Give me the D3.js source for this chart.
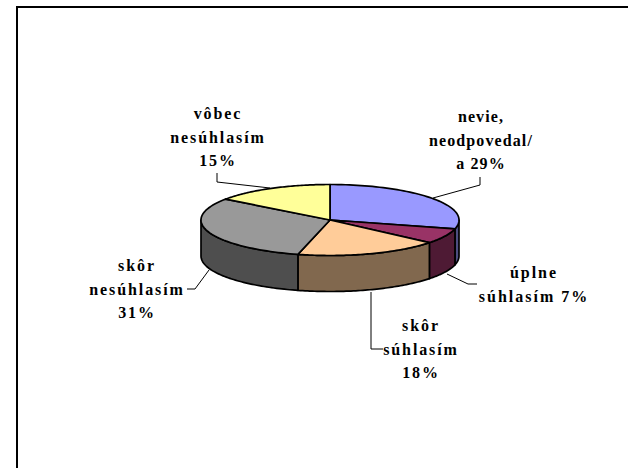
<!DOCTYPE html>
<html>
<head>
<meta charset="utf-8">
<script src="https://cdn.jsdelivr.net/npm/d3@7"></script>
<style>
  html, body { margin: 0; padding: 0; background: #fff; }
  text { font-family: "Liberation Serif", serif; font-weight: bold; font-size: 16px; fill: #000; }
</style>
</head>
<body>
<div id="chart"></div>
<script>
// Data, clockwise from 12 o'clock
const categories = ["nevie, neodpovedal/a", "úplne súhlasím", "skôr súhlasím", "skôr nesúhlasím", "vôbec nesúhlasím"];
const values = [29, 7, 18, 31, 15];
const topColors = ["#9999ff", "#993366", "#ffcc99", "#999999", "#ffff99"];
const labelLines = [
    ["nevie,", "neodpovedal/", "a 29%"],
    ["úplne", "súhlasím 7%"],
    ["skôr", "súhlasím", "18%"],
    ["skôr", "nesúhlasím", "31%"],
    ["vôbec", "nesúhlasím", "15%"]
];

// Layout, one entry per slice
const labelX = [481, 534, 421, 137, 218];
const labelY = [122, 278, 331, 271, 119];
const labelSpacing = [1.1, 2, 1.9, 1.9, 1.9];
const leaders = [
    [[480, 177], [480, 185], [433, 198]],
    [[477, 284], [468, 284], [447, 274]],
    [[383, 349], [371, 349], [371, 292]],
    [[187, 289], [195, 289], [209, 270]],
    [[217, 173], [217, 182], [270, 188]]
];

const width = 628, height = 468;
const cx = 330, cy = 220, rx = 129, ry = 35.5, depth = 36;
const lineGap = 23.5;

const svg = d3.select("#chart")
  .append("svg")
    .attr("width", width)
    .attr("height", height)
    .style("display", "block");

// Frame, only top and left are visible in the picture
svg.append("path")
    .attr("d", d3.line()([[17, height], [17, 7], [width, 7]]))
    .attr("fill", "none")
    .attr("stroke", "#000")
    .attr("stroke-width", 2);

const slices = d3.pie().sort(null).value(d => d)(values);

// Tilted pie: angle to point on the ellipse
const px = a => cx + rx * Math.sin(a);
const py = a => cy - ry * Math.cos(a);
const arcPoints = (a0, a1) => d3.range(0, 61).map(i => {
    const a = a0 + (a1 - a0) * i / 60;
    return [px(a), py(a)];
});
const line = d3.line();

// Side wall, only the front half of the rim shows
slices.forEach((s, i) => {
    const a0 = Math.max(s.startAngle, Math.PI / 2);
    const a1 = Math.min(s.endAngle, Math.PI * 1.5);
    if (a0 >= a1) return;
    const upper = arcPoints(a0, a1);
    const lower = upper.slice().reverse().map(p => [p[0], p[1] + depth]);
    svg.append("path")
        .attr("d", line(upper.concat(lower)) + "Z")
        .attr("fill", d3.color(topColors[i]).darker(1.9))
        .attr("stroke", "#000")
        .attr("stroke-width", 1.7)
        .attr("stroke-linejoin", "round");
});

// Top face
svg.selectAll(".slice")
    .data(slices)
    .enter().append("path")
    .attr("class", "slice")
    .attr("d", s => line([[cx, cy]].concat(arcPoints(s.startAngle, s.endAngle))) + "Z")
    .attr("fill", (s, i) => topColors[i])
    .attr("stroke", "#000")
    .attr("stroke-width", 1.7)
    .attr("stroke-linejoin", "round");

// Leader lines
svg.selectAll(".leader")
    .data(leaders)
    .enter().append("path")
    .attr("class", "leader")
    .attr("d", d => line(d))
    .attr("fill", "none")
    .attr("stroke", "#000")
    .attr("stroke-width", 1);

// Labels
labelLines.forEach((rows, i) => {
    svg.append("text")
        .attr("text-anchor", "middle")
        .style("letter-spacing", labelSpacing[i] + "px")
        .selectAll("tspan")
        .data(rows)
        .enter().append("tspan")
        .attr("x", labelX[i])
        .attr("y", (d, j) => labelY[i] + j * lineGap)
        .text(d => d);
});
</script>
</body>
</html>
